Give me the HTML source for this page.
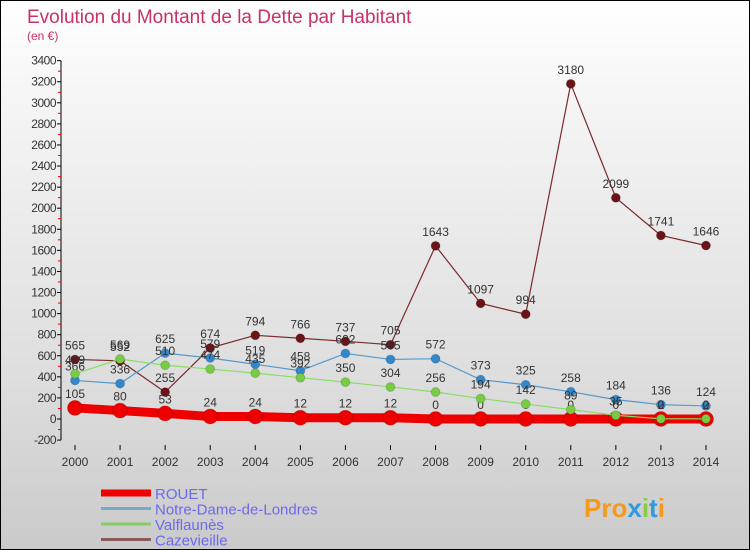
<!DOCTYPE html>
<html><head><meta charset="utf-8"><style>
body{margin:0;}
#c{width:748px;height:548px;border:1px solid #000;background:linear-gradient(#fff,#f4f4f4 20%,#ddd 70%,#cacaca);position:relative;overflow:hidden;font-family:"Liberation Sans",sans-serif;}
</style></head><body>
<div id="c">
<svg id="s" width="748" height="548"></svg>
</div>
<script>
const years=[2000,2001,2002,2003,2004,2005,2006,2007,2008,2009,2010,2011,2012,2013,2014];
const rouet=[105,80,53,24,24,12,12,12,0,0,0,0,0,0,0];
const notreDame=[366,336,625,579,519,458,622,565,572,373,325,258,184,136,124];
const valflaunes=[429,569,510,474,435,392,350,304,256,194,142,89,35,2,2];
const cazevieille=[565,552,255,674,794,766,737,705,1643,1097,994,3180,2099,1741,1646];
const yTicks=[-200,0,200,400,600,800,1000,1200,1400,1600,1800,2000,2200,2400,2600,2800,3000,3200,3400];
const NS='http://www.w3.org/2000/svg';
const s=document.getElementById('s');
const X=i=>74+i*45.07;
const Y=v=>418-v*0.1054;
function el(t,a,p){const e=document.createElementNS(NS,t);for(const k in a)e.setAttribute(k,a[k]);(p||s).appendChild(e);return e;}
let t=el('text',{x:26,y:22,'font-size':19,fill:'#c8306a'});t.textContent='Evolution du Montant de la Dette par Habitant';

t=el('text',{x:26,y:39,'font-size':12,fill:'#c8306a'});t.textContent='(en €)';

let ax=el('line',{x1:60,y1:Y(3400),x2:60,y2:Y(-200),stroke:'#000'});

yTicks.forEach((v,i)=>{
  el('line',{x1:56,x2:60,y1:Y(v),y2:Y(v),stroke:'#000'});
  if(i<yTicks.length-1)el('line',{x1:57,x2:60,y1:Y(v+100),y2:Y(v+100),stroke:'#e00'});
  const tt=el('text',{x:55,y:Y(v)+4,'font-size':12,fill:'#333','text-anchor':'end','letter-spacing':'-0.5'});tt.textContent=v;
  
});
years.forEach((y,i)=>{
  el('line',{x1:X(i),x2:X(i),y1:Y(-200)+5,y2:Y(-200)+10,stroke:'#000'});
  const tt=el('text',{x:X(i),y:465,'font-size':12,fill:'#333','text-anchor':'middle'});tt.textContent=y;
  
});
function series(d,color,w,r,fill,name){
  const g=el('g',{});
  
  el('polyline',{points:d.map((v,i)=>X(i)+','+Y(v)).join(' '),fill:'none',stroke:color,'stroke-width':w},g);
  d.forEach((v,i)=>{
    const c=el('circle',{cx:X(i),cy:Y(v),r:r,fill:fill,stroke:'rgba(0,0,0,0.15)'},g);
    
    const tt=el('text',{x:X(i),y:Y(v)-10,'font-size':12,fill:'#333','text-anchor':'middle'},g);tt.textContent=v;
  });
}
series(cazevieille,'#7a2a2a',1.2,4.5,'#6a1418','cazevieille');
series(notreDame,'#5599cc',1.2,4.5,'#3388cc','notre-dame');
series(rouet,'#ee0000',9,7.5,'#ee0000','rouet');
series(valflaunes,'#88dd66',1.2,4.5,'#77cc44','valflaunes');
const leg=[['ROUET','#ee0000',7],['Notre-Dame-de-Londres','#77a8cc',3],['Valflaunès','#88cc66',3],['Cazevieille','#8a5a5a',3]];
leg.forEach((l,i)=>{
  const g=el('g',{});
  const y=492+i*15.5;
  el('line',{x1:100,x2:150,y1:y,y2:y,stroke:l[1],'stroke-width':l[2]},g);
  const tt=el('text',{x:154,y:y+6,'font-size':15,fill:'#6a6aee'},g);tt.textContent=l[0];
});
const p=el('text',{x:583,y:516,'font-size':26,'font-weight':'bold',fill:'#f39a1e'});

p.innerHTML='<tspan fill="#f39a1e">Pro</tspan><tspan fill="#3399dd">x</tspan><tspan fill="#88cc44">i</tspan><tspan fill="#3399dd">t</tspan><tspan fill="#f39a1e">i</tspan>';
</script>
</body></html>
